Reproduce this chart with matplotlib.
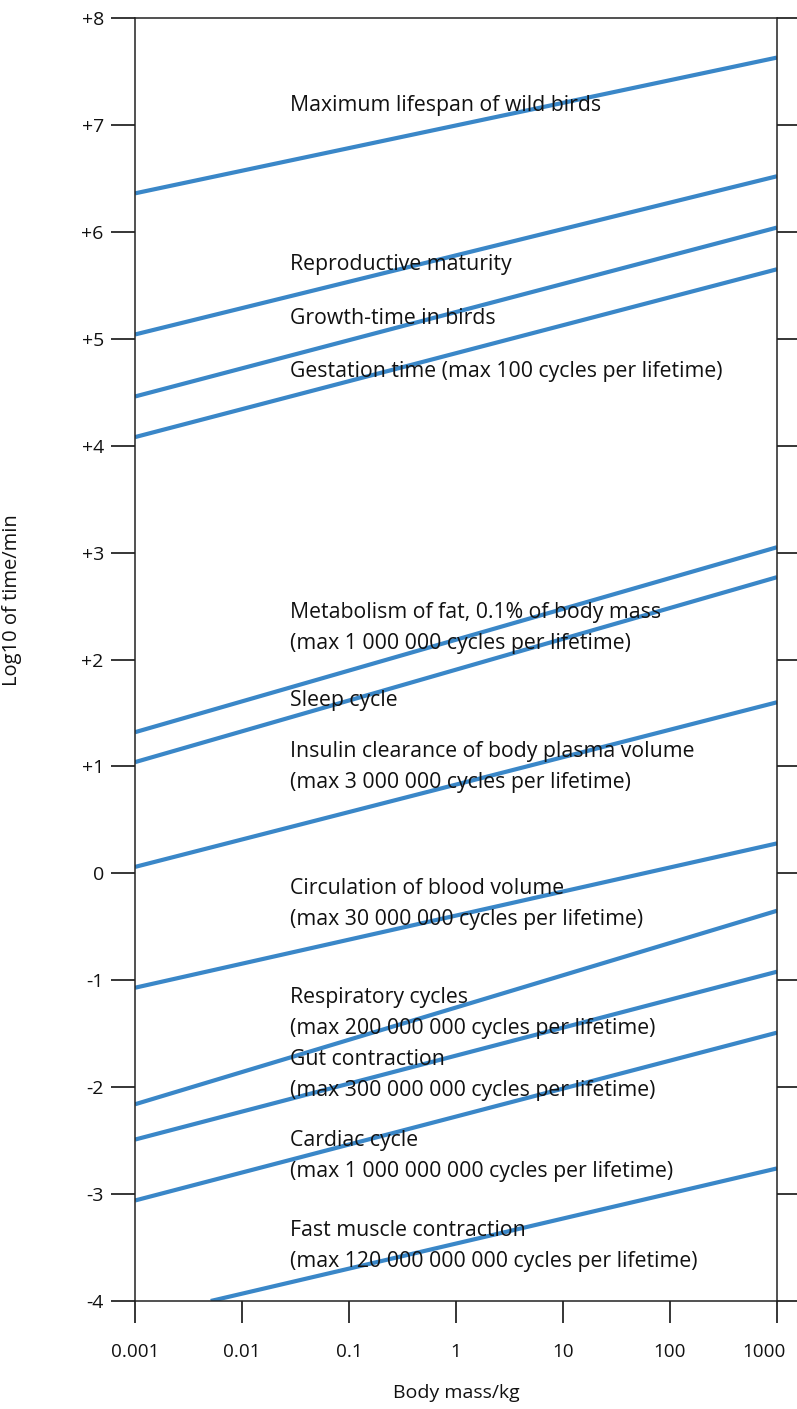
import matplotlib
matplotlib.use("Agg")
import matplotlib.pyplot as plt
import matplotlib.transforms as mtransforms

plt.rcParams['font.family'] = ['Open Sans', 'DejaVu Sans']

# Data: log10(time/min) at the line ends, body mass in kg
mass_start = [0.001, 0.001, 0.001, 0.001, 0.001, 0.001, 0.001, 0.001, 0.001, 0.001, 0.001, 0.0051]
mass_end = [1000] * 12
logt_start = [6.36, 5.04, 4.46, 4.08, 1.32, 1.04, 0.06, -1.07, -2.16, -2.49, -3.06, -4.0]
logt_end = [7.63, 6.52, 6.04, 5.65, 3.05, 2.77, 1.60, 0.28, -0.35, -0.92, -1.49, -2.76]

labels = [
    "Maximum lifespan of wild birds",
    "Reproductive maturity",
    "Growth-time in birds",
    "Gestation time (max 100 cycles per lifetime)",
    "Metabolism of fat, 0.1% of body mass\n(max 1 000 000 cycles per lifetime)",
    "Sleep cycle",
    "Insulin clearance of body plasma volume\n(max 3 000 000 cycles per lifetime)",
    "Circulation of blood volume\n(max 30 000 000 cycles per lifetime)",
    "Respiratory cycles\n(max 200 000 000 cycles per lifetime)",
    "Gut contraction\n(max 300 000 000 cycles per lifetime)",
    "Cardiac cycle\n(max 1 000 000 000 cycles per lifetime)",
    "Fast muscle contraction\n(max 120 000 000 000 cycles per lifetime)",
]
label_x = 0.0282
label_y = [7.18, 5.69, 5.19, 4.69, 2.295, 1.62, 0.995, -0.287, -1.306, -1.886, -2.644, -3.486]

x_ticks = [0.001, 0.01, 0.1, 1, 10, 100, 1000]
x_ticklabels = ["0.001", "0.01", "0.1", "1", "10", "100", "1000"]
y_ticks = [8, 7, 6, 5, 4, 3, 2, 1, 0, -1, -2, -3, -4]
y_ticklabels = ["+8", "+7", "+6", "+5", "+4", "+3", "+2", "+1", "0", "-1", "-2", "-3", "-4"]

line_color = '#3a87c8'
fs = 14
tick_fs = 13.6
label_fs = 15.3

fig = plt.figure(figsize=(7.97, 14.09), dpi=100)
ax = fig.add_axes([0.1694, 0.07665, 0.8055, 0.91057])

for xs, xe, ys, ye in zip(mass_start, mass_end, logt_start, logt_end):
    ax.plot([xs, xe], [ys, ye], color=line_color, lw=3.0, solid_capstyle='butt')

for txt, y in zip(labels, label_y):
    ax.text(label_x, y, txt, fontsize=label_fs, ha='left', va='center', linespacing=1.6, color='#111111')

ax.set_xscale('log')
ax.set_xlim(0.001, 1000)
ax.set_ylim(-4, 8)
ax.set_xticks(x_ticks, x_ticklabels)
ax.minorticks_off()
ax.set_yticks(y_ticks, y_ticklabels)

ax.tick_params(axis='y', which='major', direction='out', length=17.5, width=1.1,
               left=True, right=True, labelsize=fs, pad=5, labelcolor='#111111')
ax.tick_params(axis='x', which='major', direction='out', length=15.5, width=1.1,
               labelsize=tick_fs, pad=15, labelcolor='#111111')
for s in ax.spines.values():
    s.set_linewidth(1.1)
    s.set_color('#222222')

# the last x tick label sits a little left of its tick so it stays inside the figure
last = ax.xaxis.get_major_ticks()[-1].label1
last.set_transform(last.get_transform() + mtransforms.ScaledTranslation(-9 / 72, 0, fig.dpi_scale_trans))

ax.set_xlabel("Body mass/kg", fontsize=fs, labelpad=16, color='#111111')
ax.set_ylabel("Log10 of time/min", fontsize=fs + 0.5, color='#111111')
ax.yaxis.set_label_coords(-0.176, 0.546)

fig.savefig('out.png', dpi=100)
